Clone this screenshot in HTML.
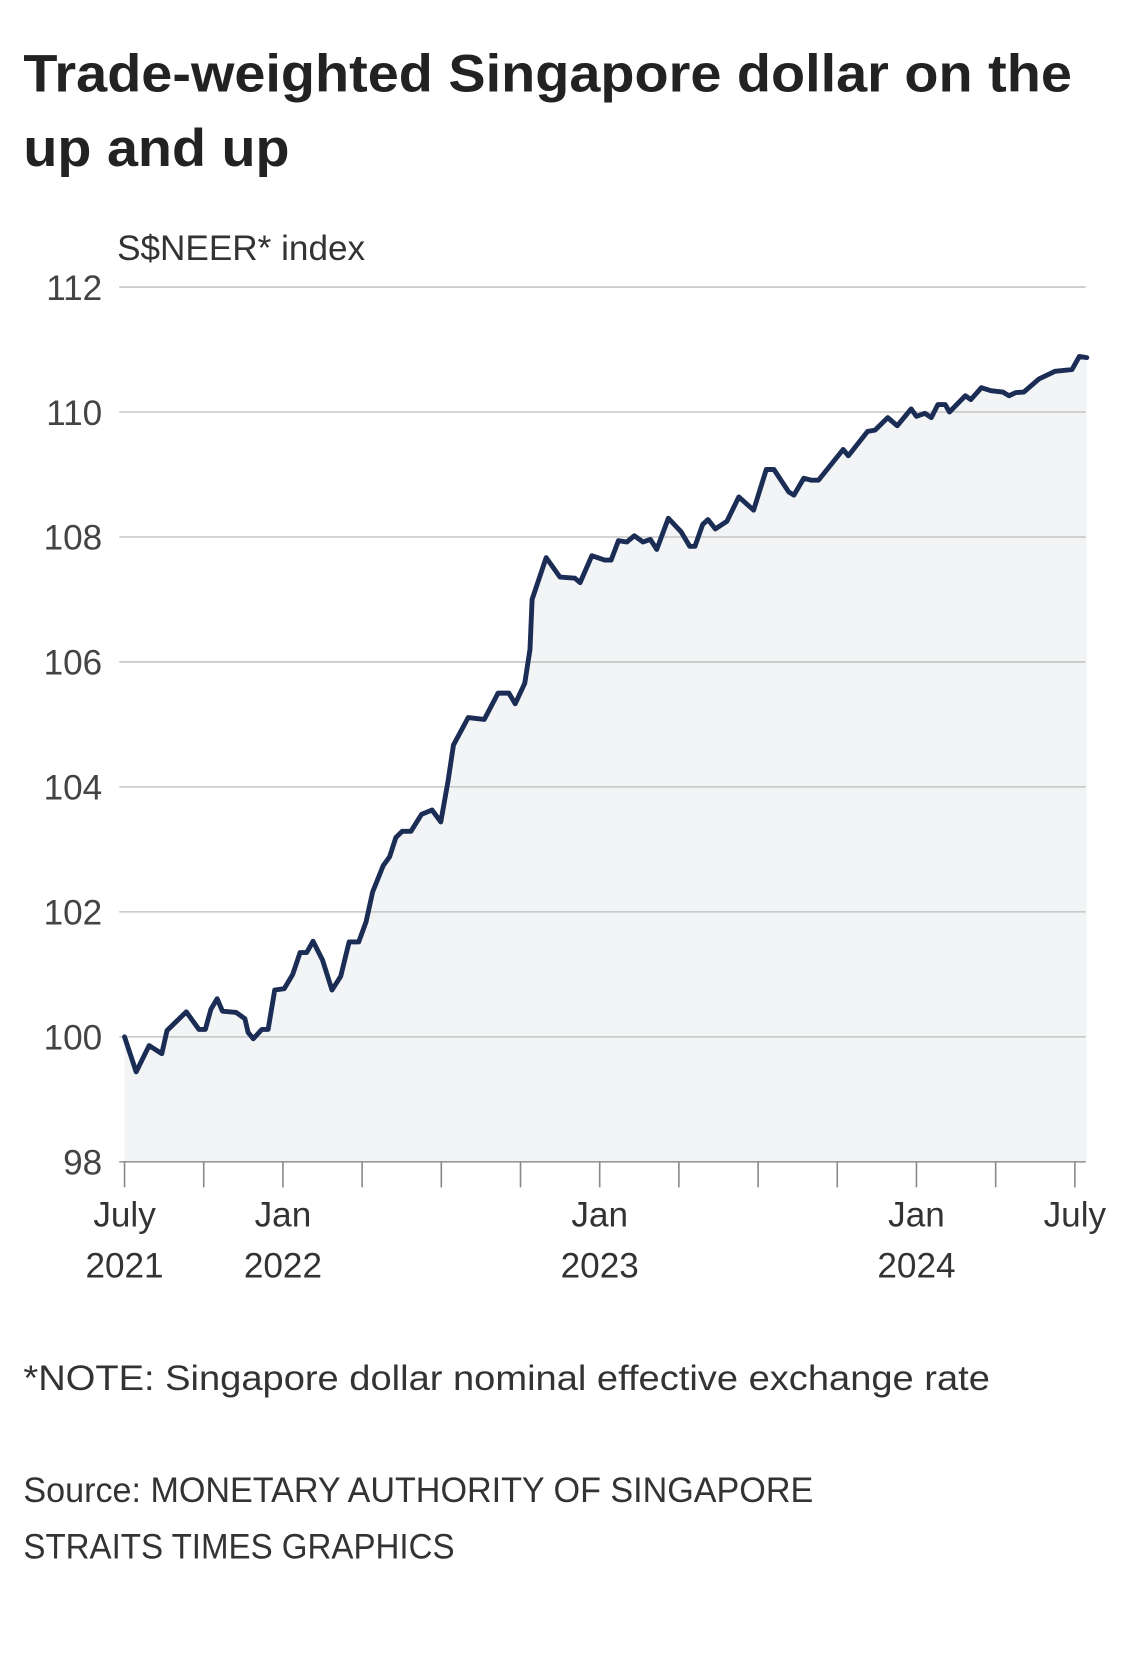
<!DOCTYPE html>
<html><head><meta charset="utf-8"><style>
html,body{margin:0;padding:0;background:#fff;}
svg{display:block;font-family:"Liberation Sans",sans-serif;}
</style></head><body>
<svg id="chart" width="1140" height="1666" viewBox="0 0 1071 1565" xmlns="http://www.w3.org/2000/svg">
<text x="22" y="86" font-size="50" font-weight="bold" fill="#222" textLength="985" lengthAdjust="spacingAndGlyphs">Trade-weighted Singapore dollar on the</text>
<text x="22" y="156" font-size="50" font-weight="bold" fill="#222" textLength="250" lengthAdjust="spacingAndGlyphs">up and up</text>
<text x="110" y="244" font-size="33" fill="#333" textLength="233" lengthAdjust="spacingAndGlyphs">S$NEER* index</text>
<path id="area" fill="#f2f4f6"></path>
<g id="gridlines"></g>
<path id="line" fill="none" stroke="#1b2d55" stroke-width="4.6" stroke-linejoin="round" stroke-linecap="round"></path>
<g id="xaxis"></g>
<text x="22" y="1306" font-size="33" fill="#333" textLength="908" lengthAdjust="spacingAndGlyphs">*NOTE: Singapore dollar nominal effective exchange rate</text>
<text x="22" y="1411" font-size="33" fill="#333" textLength="742" lengthAdjust="spacingAndGlyphs">Source: MONETARY AUTHORITY OF SINGAPORE</text>
<text x="22" y="1464" font-size="33" fill="#333" textLength="405" lengthAdjust="spacingAndGlyphs">STRAITS TIMES GRAPHICS</text>
</svg>
<script>
const months=[0,0.44,0.93,1.41,1.61,2.34,2.82,3.06,3.27,3.51,3.71,4.23,4.56,4.68,4.88,5.2,5.44,5.69,6.05,6.37,6.65,6.9,7.14,7.5,7.86,8.19,8.51,8.87,9.15,9.4,9.8,10.04,10.28,10.52,10.85,11.25,11.65,11.98,12.26,12.46,13.02,13.63,14.15,14.56,14.8,15.16,15.36,15.44,15.97,16.49,17.06,17.26,17.7,18.19,18.43,18.71,19.03,19.31,19.64,19.92,20.16,20.6,21.09,21.41,21.61,21.9,22.1,22.38,22.82,23.27,23.83,24.31,24.6,25.16,25.36,25.73,26.01,26.29,27.22,27.42,28.15,28.43,28.91,29.27,29.8,30.0,30.32,30.56,30.81,31.09,31.25,31.85,32.06,32.46,32.82,33.27,33.51,33.75,34.07,34.64,35.24,35.89,36.17,36.45];
const values=[100.0,99.44,99.86,99.73,100.1,100.4,100.12,100.12,100.44,100.61,100.41,100.39,100.29,100.07,99.97,100.12,100.12,100.75,100.77,101.0,101.35,101.35,101.53,101.23,100.75,100.97,101.52,101.52,101.84,102.32,102.74,102.88,103.19,103.29,103.29,103.56,103.63,103.44,104.1,104.67,105.11,105.08,105.5,105.5,105.33,105.66,106.2,107.0,107.67,107.36,107.34,107.27,107.7,107.63,107.63,107.94,107.92,108.02,107.92,107.96,107.8,108.3,108.08,107.85,107.85,108.2,108.28,108.13,108.25,108.64,108.43,109.08,109.08,108.72,108.67,108.94,108.91,108.91,109.4,109.3,109.69,109.71,109.91,109.78,110.05,109.93,109.98,109.91,110.12,110.12,110.0,110.26,110.2,110.39,110.34,110.32,110.26,110.31,110.32,110.53,110.65,110.68,110.89,110.87];
const yTicks=[98,100,102,104,106,108,110,112];
const xTickMonths=[0,3,6,9,12,15,18,21,24,27,30,33,36];
const xLabelMonths=[0,6,18,30,36];
const xLabelTop=["July","Jan","Jan","Jan","July"];
const xLabelBottom=["2021","2022","2023","2024",""];

const NS="http://www.w3.org/2000/svg";
const X=m=>117+m*24.8;
const Y=v=>974-(v-100)*58.7;
function mk(tag,attrs,parent){const e=document.createElementNS(NS,tag);for(const k in attrs)e.setAttribute(k,attrs[k]);parent.appendChild(e);return e;}
const gl=document.getElementById('gridlines');
yTicks.forEach(v=>{
  const l=mk('line',{x1:112,x2:1020,y1:Y(v),y2:Y(v),stroke:v===98?'#999':'#bbb','stroke-width':v===98?1.5:1.2},gl);
  
  
  const t=mk('text',{x:96,y:Y(v)+12,'text-anchor':'end','font-size':33,fill:'#444'},gl);
  t.textContent=v;
  
  
});
let d='';months.forEach((m,i)=>{d+=(i?'L':'M')+X(m).toFixed(1)+','+Y(values[i]).toFixed(1);});
document.getElementById('line').setAttribute('d',d);
document.getElementById('area').setAttribute('d',d+'L'+X(months[months.length-1])+','+Y(98)+'L'+X(0)+','+Y(98)+'Z');
const xa=document.getElementById('xaxis');
xTickMonths.forEach(m=>{
  const l=mk('line',{x1:X(m),x2:X(m),y1:Y(98),y2:Y(98)+24,stroke:'#888','stroke-width':1.5},xa);
  
  
});
xLabelMonths.forEach((m,i)=>{
  const t=mk('text',{x:X(m),y:1152,'text-anchor':'middle','font-size':33,fill:'#333'},xa);
  t.textContent=xLabelTop[i];
  
  
  if(xLabelBottom[i]){
    const t2=mk('text',{x:X(m),y:1200,'text-anchor':'middle','font-size':33,fill:'#333'},xa);
    t2.textContent=xLabelBottom[i];
    
    
  }
});
</script>
</body></html>
